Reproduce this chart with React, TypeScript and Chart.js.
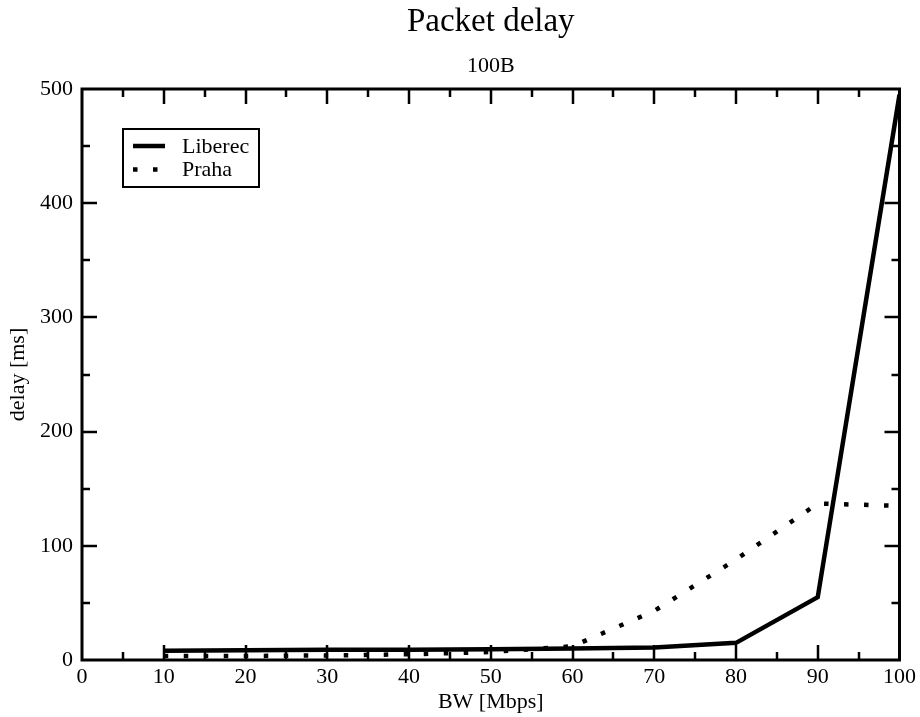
import React, { useEffect, useRef } from "react";
import { Chart, registerables } from "chart.js";

Chart.register(...registerables);

const TITLE = "Packet delay";
const SUBTITLE = "100B";
const X_TITLE = "BW [Mbps]";
const Y_TITLE = "delay [ms]";

const BW = [10, 20, 30, 40, 50, 60, 70, 80, 90, 100];
const LIBEREC = [8, 8.5, 9, 9, 9.5, 10, 11, 15, 55, 495];
const PRAHA = [3.5, 3.5, 4, 5, 7, 12, 43, 88, 137, 135];

const X_MIN = 0;
const X_MAX = 100;
const X_MAJOR_STEP = 10;
const X_MINOR_STEP = 5;
const Y_MIN = 0;
const Y_MAX = 500;
const Y_MAJOR_STEP = 100;
const Y_MINOR_STEP = 50;

const FONT = "'Liberation Serif', 'Times New Roman', serif";

const framePlugin = {
  id: "xmgraceFrame",
  afterDatasetsDraw(chart: any) {
    const { ctx, chartArea } = chart;
    const xs = chart.scales.x;
    const ys = chart.scales.y;
    const { left, right, top, bottom } = chartArea;
    ctx.save();
    ctx.strokeStyle = "#000";
    ctx.lineCap = "butt";
    ctx.lineWidth = 2.5;
    const major = 15;
    const minor = 8;
    for (let v = X_MIN; v <= X_MAX + 1e-9; v += X_MINOR_STEP) {
      if (v === X_MIN || v === X_MAX) continue;
      const len = Math.abs(v % X_MAJOR_STEP) < 1e-9 ? major : minor;
      const px = Math.round(xs.getPixelForValue(v));
      ctx.beginPath();
      ctx.moveTo(px, bottom);
      ctx.lineTo(px, bottom - len);
      ctx.moveTo(px, top);
      ctx.lineTo(px, top + len);
      ctx.stroke();
    }
    for (let v = Y_MIN; v <= Y_MAX + 1e-9; v += Y_MINOR_STEP) {
      if (v === Y_MIN || v === Y_MAX) continue;
      const len = Math.abs(v % Y_MAJOR_STEP) < 1e-9 ? major : minor;
      const py = Math.round(ys.getPixelForValue(v));
      ctx.beginPath();
      ctx.moveTo(left, py);
      ctx.lineTo(left + len, py);
      ctx.moveTo(right, py);
      ctx.lineTo(right - len, py);
      ctx.stroke();
    }
    ctx.lineWidth = 3;
    ctx.strokeRect(left, top, right - left, bottom - top);
    ctx.restore();
  },
  afterDraw(chart: any) {
    const { ctx } = chart;
    const ds = chart.data.datasets;
    ctx.save();
    ctx.strokeStyle = "#000";
    ctx.lineWidth = 2;
    ctx.strokeRect(123, 129, 136, 58);
    const rows = [146, 169.5];
    ds.forEach((d: any, i: number) => {
      const y = rows[i];
      ctx.lineWidth = d.borderWidth;
      ctx.strokeStyle = d.borderColor;
      ctx.setLineDash(d.borderDash || []);
      ctx.lineCap = "butt";
      ctx.beginPath();
      ctx.moveTo(133, y);
      ctx.lineTo(165, y);
      ctx.stroke();
      ctx.setLineDash([]);
      ctx.fillStyle = "#000";
      ctx.font = `22px ${FONT}`;
      ctx.textBaseline = "middle";
      ctx.textAlign = "left";
      ctx.fillText(d.label, 182, y + 1);
    });
    ctx.restore();
  },
};

export default function App() {
  const ref = useRef<HTMLCanvasElement>(null);
  useEffect(() => {
    document.body.style.margin = "0";
    const canvas = ref.current!;
    const chart = new Chart(canvas, {
      type: "line",
      data: {
        labels: BW,
        datasets: [
          {
            label: "Liberec",
            data: BW.map((x, i) => ({ x, y: LIBEREC[i] })),
            borderColor: "#000",
            backgroundColor: "#000",
            borderWidth: 4.5,
            pointRadius: 0,
            tension: 0,
            borderDash: [],
          },
          {
            label: "Praha",
            data: BW.map((x, i) => ({ x, y: PRAHA[i] })),
            borderColor: "#000",
            backgroundColor: "#000",
            borderWidth: 4.5,
            pointRadius: 0,
            tension: 0,
            borderDash: [4.5, 15.5],
            borderCapStyle: "butt",
          },
        ],
      },
      options: {
        responsive: false,
        animation: false,
        devicePixelRatio: 1,
        layout: { padding: { left: 0, right: 20, top: 0, bottom: 0 } },
        color: "#000",
        plugins: {
          legend: { display: false },
          tooltip: { enabled: false },
          title: {
            display: true,
            text: TITLE,
            fullSize: false,
            color: "#000",
            font: { family: FONT, size: 33, weight: "normal", lineHeight: 1.2 },
            padding: { top: 3, bottom: 0 },
          },
          subtitle: {
            display: true,
            text: SUBTITLE,
            fullSize: false,
            color: "#000",
            font: { family: FONT, size: 22, weight: "normal", lineHeight: 1.2 },
            padding: { top: 10, bottom: 10 },
          },
        },
        scales: {
          x: {
            type: "linear",
            min: X_MIN,
            max: X_MAX,
            grid: { display: false, drawTicks: false },
            border: { display: false },
            ticks: {
              stepSize: X_MAJOR_STEP,
              color: "#000",
              font: { family: FONT, size: 22 },
              padding: 4,
              maxRotation: 0,
              autoSkip: false,
            },
            title: {
              display: true,
              text: X_TITLE,
              color: "#000",
              font: { family: FONT, size: 22 },
              padding: { top: 0, bottom: 2 },
            },
            afterFit(scale: any) {
              scale.height = 57;
            },
          },
          y: {
            type: "linear",
            min: Y_MIN,
            max: Y_MAX,
            grid: { display: false, drawTicks: false },
            border: { display: false },
            ticks: {
              stepSize: Y_MAJOR_STEP,
              color: "#000",
              font: { family: FONT, size: 22 },
              padding: 9,
            },
            title: {
              display: true,
              text: Y_TITLE,
              color: "#000",
              font: { family: FONT, size: 22 },
              padding: { top: 5, bottom: 0 },
            },
            afterFit(scale: any) {
              scale.width = 82;
            },
          },
        },
      },
      plugins: [framePlugin],
    } as any);
    return () => chart.destroy();
  }, []);
  return (
    <div style={{ position: "relative", width: 920, height: 717 }}>
      <canvas ref={ref} width={920} height={717} style={{ display: "block" }} />
    </div>
  );
}
